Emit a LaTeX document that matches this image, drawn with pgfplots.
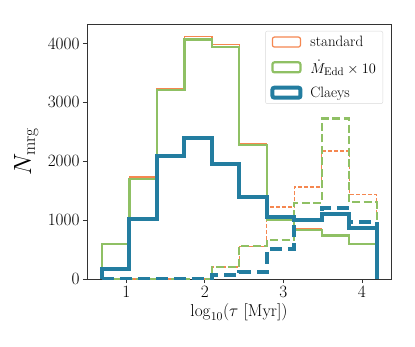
\documentclass[border=0pt]{standalone}
\usepackage{pgfplots}
\pgfplotsset{compat=1.18}

\definecolor{cstd}{RGB}{245,135,80}
\definecolor{cedd}{RGB}{143,192,100}
\definecolor{ccla}{RGB}{35,125,160}

\begin{document}
\begin{tikzpicture}
\begin{axis}[
  scale only axis,
  width=304pt, height=255pt,
  xmin=0.5, xmax=4.37,
  ymin=0, ymax=4330,
  xtick={1,2,3,4},
  ytick={0,1000,2000,3000,4000},
  scaled y ticks=false,
  /pgf/number format/1000 sep={},
  tick align=outside,
  xtick pos=bottom, ytick pos=left,
  major tick length=4pt,
  tick style={black!80, line width=0.8pt},
  axis line style={black!80, line width=0.8pt},
  ticklabel style={font=\fontsize{16.5}{18}\selectfont},
  xlabel={$\log_{10}(\tau\ [\mathrm{Myr}])$},
  ylabel={$N_{\mathrm{mrg}}$},
  xlabel style={font=\fontsize{17}{19}\selectfont, at={(axis description cs:0.5,-0.13)}, anchor=center},
  ylabel style={font=\fontsize{23}{25}\selectfont, at={(axis description cs:-0.2,0.5)}, anchor=center},
  legend style={at={(axis description cs:0.974,0.973)}, anchor=north east,
    draw=black!15, rounded corners=2pt, fill=white,
    font=\fontsize{15}{17}\selectfont, row sep=8pt, column sep=6pt,
    inner xsep=5pt, inner ysep=3pt},
  legend cell align=left,
  legend image code/.code={\draw[#1] (0pt,-5pt) rectangle (28pt,5pt);},
]
% standard
\addplot[const plot, cstd, line width=1.2pt] coordinates {
  (0.69,0) (0.69,590) (1.04,1733) (1.39,3240) (1.74,4124) (2.09,3988)
  (2.44,2300) (2.79,1035) (3.14,856) (3.49,750) (3.84,595) (4.19,595) (4.19,0)};
\addlegendentry{standard}
\addplot[const plot, cstd, line width=1.2pt, dash pattern=on 4pt off 2pt, forget plot] coordinates {
  (0.69,0) (0.69,0) (1.04,0) (1.39,0) (1.74,0) (2.09,204)
  (2.44,555) (2.79,1223) (3.14,1563) (3.49,2175) (3.84,1439) (4.19,1439) (4.19,0)};
% Mdot Edd x 10
\addplot[const plot, cedd, line width=2.2pt] coordinates {
  (0.69,0) (0.69,590) (1.04,1700) (1.39,3207) (1.74,4068) (2.09,3942)
  (2.44,2277) (2.79,1010) (3.14,828) (3.49,737) (3.84,590) (4.19,590) (4.19,0)};
\addlegendentry{$\dot{M}_{\mathrm{Edd}}\times 10$}
\addplot[const plot, cedd, line width=2.2pt, dash pattern=on 8pt off 3.5pt, forget plot] coordinates {
  (0.69,0) (0.69,0) (1.04,0) (1.39,0) (1.74,0) (2.09,204)
  (2.44,561) (2.79,658) (3.14,1292) (3.49,2725) (3.84,1303) (4.19,1303) (4.19,0)};
% Claeys
\addplot[const plot, ccla, line width=4pt] coordinates {
  (0.69,0) (0.69,176) (1.04,1014) (1.39,2085) (1.74,2396) (2.09,1949)
  (2.44,1393) (2.79,1054) (3.14,1000) (3.49,1111) (3.84,873) (4.19,873) (4.19,0)};
\addlegendentry{Claeys}
\addplot[const plot, ccla, line width=4pt, dash pattern=on 12pt off 6pt, forget plot] coordinates {
  (0.69,0) (0.69,0) (1.04,0) (1.39,0) (1.74,0) (2.09,63)
  (2.44,119) (2.79,510) (3.14,997) (3.49,1206) (3.84,969) (4.19,969) (4.19,0)};
\end{axis}
\path[use as bounding box] (-87pt,-67pt) rectangle (328pt,279pt);
\end{tikzpicture}
\end{document}
